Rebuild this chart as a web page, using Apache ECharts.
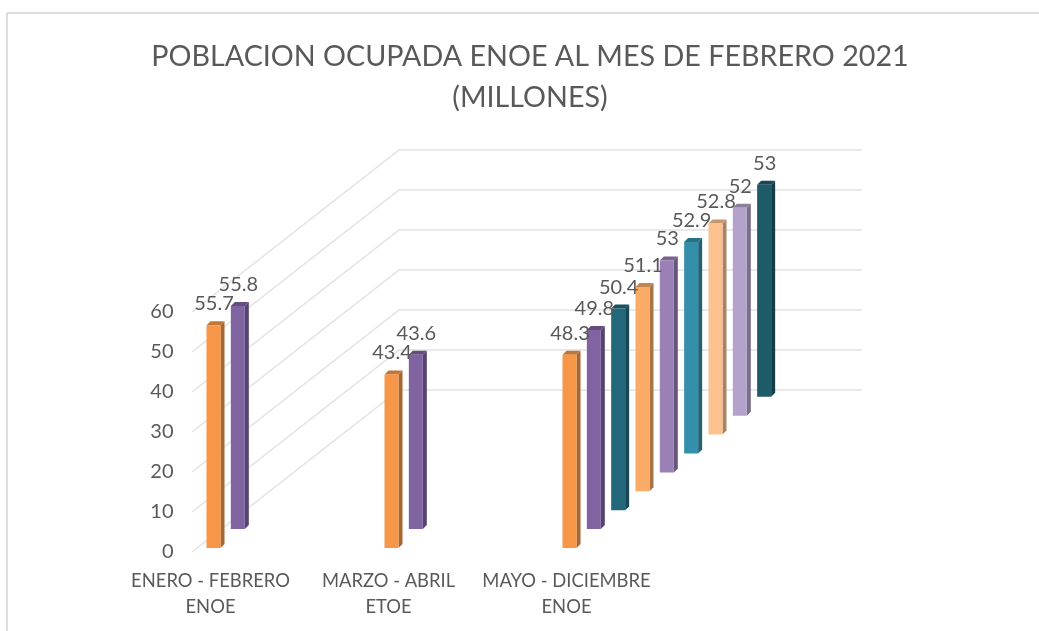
<!DOCTYPE html>
<html>
<head>
<meta charset="utf-8">
<title>Poblacion ocupada ENOE</title>
<script src="https://cdn.jsdelivr.net/npm/echarts@6/dist/echarts.min.js"></script>
<style>
    html, body { margin: 0; padding: 0; background: #fff; }
    #main { width: 1039px; height: 631px; }
</style>
</head>
<body>
<div id="main"></div>
<script>
    var categories = ['ENERO - FEBRERO\nENOE', 'MARZO - ABRIL\nETOE', 'MAYO - DICIEMBRE\nENOE'];
    var yTicks = [0, 10, 20, 30, 40, 50, 60];

    // una lista por serie, de adelante hacia atras
    var serie1 = [55.7, 43.4, 48.3];
    var serie2 = [55.8, 43.6, 49.8];
    var serie3 = [null, null, 50.4];
    var serie4 = [null, null, 51.1];
    var serie5 = [null, null, 53];
    var serie6 = [null, null, 52.9];
    var serie7 = [null, null, 52.8];
    var serie8 = [null, null, 52];
    var serie9 = [null, null, 53];

    var allSeries = [serie1, serie2, serie3, serie4, serie5, serie6, serie7, serie8, serie9];
    var colors = ['#F79646', '#8064A2', '#23687A', '#FAAB67', '#9A80B5', '#348FAB', '#FBC18F', '#B3A2C9', '#1F5A68'];

    var FONT = 'Lato';
    var TEXT = '#595959';
    // perspectiva del grafico 3D de Excel
    var STEP_X = 24.33, STEP_Y = 18.9;
    var BAR_W = 14, SIDE = 4;

    function shade(color, k) {
        var c = echarts.color.parse(color);
        return 'rgb(' + Math.round(c[0] * k) + ',' + Math.round(c[1] * k) + ',' + Math.round(c[2] * k) + ')';
    }

    function renderWall(params, api) {
        var p = api.coord([0, api.value(1)]);
        var x0 = p[0] - 18.5, y0 = p[1];
        var x1 = x0 + 207, y1 = y0 - 162;
        return {
            type: 'polyline',
            shape: { points: [[x0, y0], [x1, y1], [862, y1]] },
            style: { fill: null, stroke: '#e2e2e2', lineWidth: 1.5 },
            silent: true
        };
    }

    function barRenderer(depth, color) {
        return function (params, api) {
            var v = api.value(1);
            if (v == null || isNaN(v)) {
                return null;
            }
            var base = api.coord([api.value(0), 0]);
            var top = api.coord([api.value(0), v]);
            var dy = 4 + depth * STEP_Y;
            var x = base[0] - 4 + depth * STEP_X;
            var yb = base[1] - dy;
            var yt = top[1] - dy;
            return {
                type: 'group',
                children: [
                    {
                        type: 'polygon',
                        shape: { points: [[x + BAR_W, yt], [x + BAR_W + SIDE, yt - SIDE], [x + BAR_W + SIDE, yb - SIDE], [x + BAR_W, yb]] },
                        style: { fill: shade(color, 0.68) }
                    },
                    {
                        type: 'polygon',
                        shape: { points: [[x, yt], [x + SIDE, yt - SIDE], [x + BAR_W + SIDE, yt - SIDE], [x + BAR_W, yt]] },
                        style: { fill: shade(color, 0.78) }
                    },
                    {
                        type: 'rect',
                        shape: { x: x, y: yt, width: BAR_W, height: yb - yt },
                        style: { fill: color }
                    },
                    {
                        type: 'text',
                        style: {
                            x: x + 7.5, y: yt - 21.5, text: String(v), align: 'center', verticalAlign: 'middle',
                            font: '20px ' + FONT, fill: TEXT
                        }
                    }
                ]
            };
        };
    }

    var series = [{
        type: 'custom',
        name: 'wall',
        z: 1,
        renderItem: renderWall,
        encode: { x: 0, y: 1 },
        data: yTicks.map(function (t) { return [0, t]; })
    }];

    allSeries.forEach(function (values, i) {
        series.push({
            type: 'custom',
            name: 'Serie ' + (i + 1),
            z: 2 + allSeries.length - i,
            renderItem: barRenderer(i, colors[i]),
            encode: { x: 0, y: 1 },
            data: values.map(function (v, c) { return [c, v]; })
        });
    });

    var myChart = echarts.init(document.getElementById('main'));
    myChart.setOption({
        backgroundColor: '#fff',
        animation: false,
        title: {
            text: 'POBLACION OCUPADA ENOE AL MES DE FEBRERO 2021\n(MILLONES)',
            left: 525,
            top: 31,
            textAlign: 'center',
            textStyle: { fontFamily: FONT, fontSize: 28.7, fontWeight: 'normal', color: TEXT, lineHeight: 41 }
        },
        grid: { left: 121.5, top: 312, width: 534, height: 240 },
        xAxis: {
            type: 'category',
            data: categories,
            axisLine: { show: false },
            axisTick: { show: false },
            axisLabel: { fontFamily: FONT, fontSize: 18.4, color: TEXT, lineHeight: 26, margin: 16, interval: 0 }
        },
        yAxis: {
            type: 'value',
            min: 0,
            max: 60,
            interval: 10,
            offset: -59,
            axisLine: { show: false },
            axisTick: { show: false },
            splitLine: { show: false },
            axisLabel: { fontFamily: FONT, fontSize: 20, color: TEXT, margin: 7 }
        },
        graphic: [
            { type: 'line', shape: { x1: 7, y1: 13, x2: 1039, y2: 13 }, style: { stroke: '#dcdcdc', lineWidth: 2 } },
            { type: 'line', shape: { x1: 7, y1: 13, x2: 7, y2: 631 }, style: { stroke: '#dcdcdc', lineWidth: 2 } }
        ],
        series: series
    });
</script>
</body>
</html>
